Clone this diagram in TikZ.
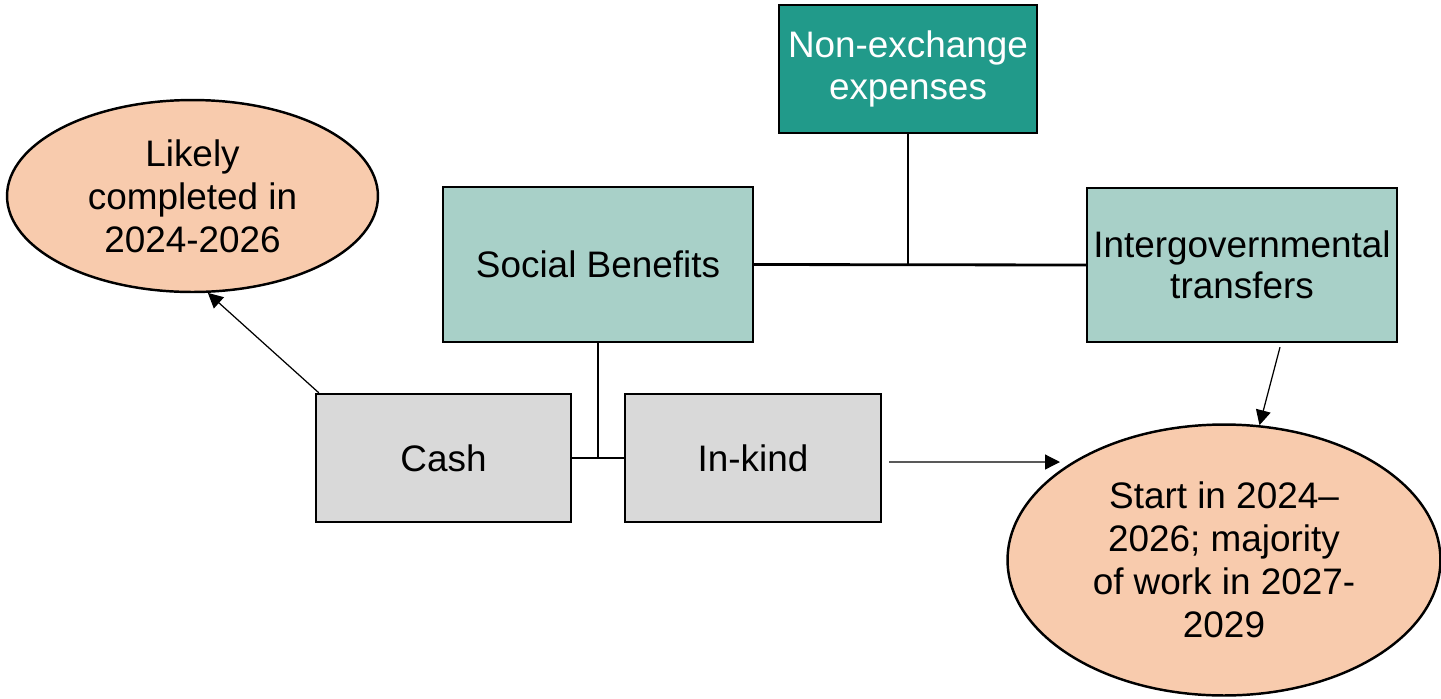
\documentclass[tikz,border=0pt]{standalone}
\usepackage{fontspec}
\setmainfont{Liberation Sans}
\usetikzlibrary{shapes.geometric,arrows.meta}
\definecolor{tealdark}{HTML}{219A8A}
\definecolor{teallight}{HTML}{A8D0C8}
\definecolor{boxgray}{HTML}{D9D9D9}
\definecolor{peach}{HTML}{F8CBAD}
\tikzset{
	boxnode/.style={draw=black, line width=1.4pt, rectangle, align=center, inner sep=2pt,
		font=\fontsize{21}{23.5}\selectfont},
	ovalnode/.style={draw=black, line width=1.4pt, ellipse, fill=peach, align=center, inner sep=1pt,
		font=\fontsize{21}{24.4}\selectfont},
	link/.style={line width=1.6pt},
	pointer/.style={line width=0.7pt, -{Triangle[length=8.5pt,width=8.5pt]}}
}

\begin{document}
\begin{tikzpicture}[x=0.02cm, y=-0.02cm]
			%%%%% START %%%%%
			\useasboundingbox (0, 0) rectangle (1441, 698);
			
			\node[boxnode, fill=tealdark, text=white, minimum width=5.16cm, minimum height=2.56cm] (nonex) at (908, 69) {Non-exchange\\expenses};
			\node[boxnode, fill=teallight, minimum width=6.2cm, minimum height=3.1cm] (social) at (598, 264.5) {Social Benefits};
			\node[boxnode, fill=teallight, minimum width=6.2cm, minimum height=3.08cm] (intergov) at (1242, 265) {Intergovernmental\\transfers};
			
			\node[boxnode, fill=boxgray, minimum width=5.1cm, minimum height=2.56cm] (cash) at (443.5, 458) {Cash};
			\node[boxnode, fill=boxgray, minimum width=5.12cm, minimum height=2.56cm] (inkind) at (753, 458) {In-kind};
			
			\node[ovalnode, minimum width=7.42cm, minimum height=3.84cm] (likely) at (192.5, 196) {Likely\\completed in\\2024-2026};
			\node[ovalnode, minimum width=8.66cm, minimum height=5.42cm] (startel) at (1224, 560) {Start in 2024--\\2026; majority\\of work in 2027-\\2029};
			
			% tree lines
			\draw[link] (nonex.south) -- (nonex.south |- social.east);
			\draw[link] (social.east) -- (intergov.west);
			\draw[link] (social.south) -- (social.south |- cash.east);
			\draw[link] (cash.east) -- (inkind.west);
			
			% arrows to the ovals
			\coordinate (tipk) at (1060, 462);
			\draw[pointer] ([xshift=0.08cm]cash.north west) -- (likely.-81);
			\draw[pointer] ([xshift=0.14cm, yshift=-0.08cm]inkind.east) -- (tipk);
			\draw[pointer] ([xshift=0.76cm, yshift=-0.08cm]intergov.south) -- (startel);
			
			%%%%% END %%%%%
		\end{tikzpicture}
\end{document}
